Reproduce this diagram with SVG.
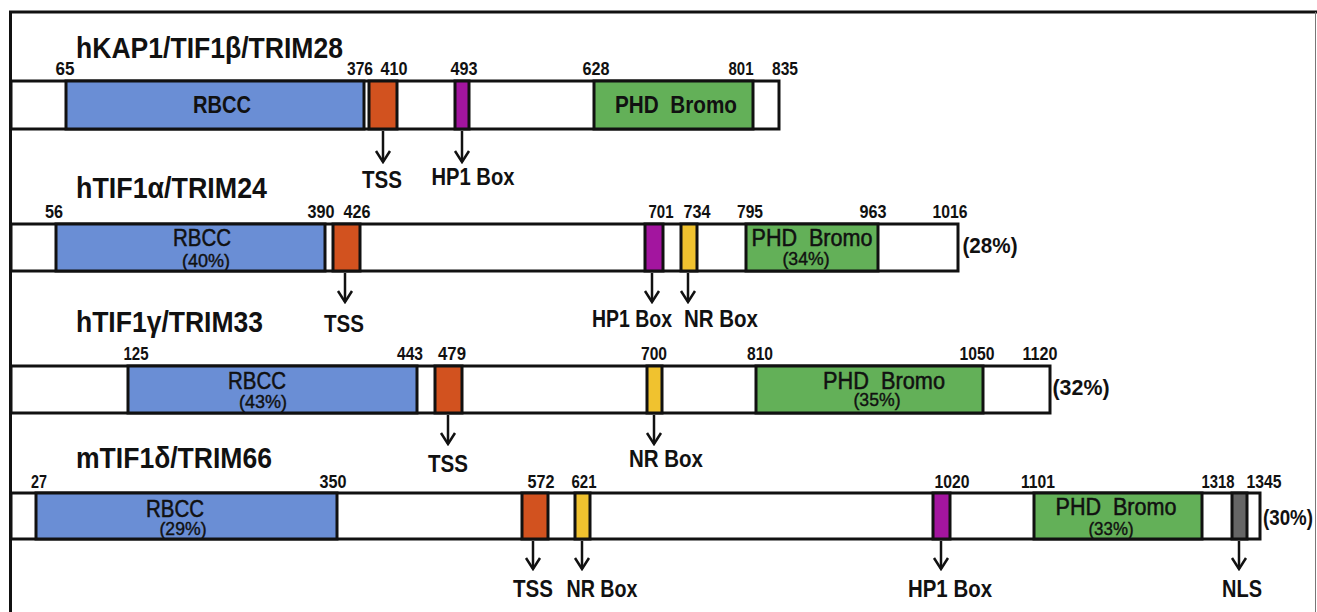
<svg xmlns="http://www.w3.org/2000/svg" width="1317" height="612" viewBox="0 0 1317 612">
<style>
text{font-family:"Liberation Sans Narrow","Liberation Sans",Arial,sans-serif;fill:#111;}
.t{font-size:30px;font-weight:bold;}
.n{font-size:17.5px;font-weight:bold;text-anchor:middle;}
.l{font-size:23px;font-weight:bold;text-anchor:middle;}
.d{font-size:23px;text-anchor:middle;stroke:#111;stroke-width:0.5;}
.db{font-size:23px;font-weight:bold;text-anchor:middle;}
.p{font-size:18px;text-anchor:middle;stroke:#111;stroke-width:0.4;}
.pr{font-size:22px;font-weight:bold;text-anchor:middle;}
.bar{fill:#fff;stroke:#111;stroke-width:3;}
.rb{fill:#6a8ed5;stroke:#111;stroke-width:3;}
.ts{fill:#d2521f;stroke:#111;stroke-width:3;}
.hp{fill:#a3159f;stroke:#111;stroke-width:3;}
.nr{fill:#f0c22f;stroke:#111;stroke-width:3;}
.ph{fill:#63b058;stroke:#111;stroke-width:3;}
.nl{fill:#666;stroke:#111;stroke-width:3;}
.ar{stroke:#111;stroke-width:2.5;fill:none;}
</style>
<defs>
<marker id="ah" viewBox="-13 -9 15 18" markerWidth="15" markerHeight="18" refX="0" refY="0" orient="auto" markerUnits="userSpaceOnUse">
<path d="M-11,-7 L0,0 L-11,7" fill="none" stroke="#111" stroke-width="2.5" stroke-linejoin="miter"/>
</marker>
</defs>
<g id="frame">
<line x1="9" y1="12" x2="1317" y2="12" stroke="#111" stroke-width="3"/>
<line x1="10.5" y1="11" x2="10.5" y2="612" stroke="#111" stroke-width="3"/>
<line x1="1315.5" y1="12" x2="1315.5" y2="612" stroke="#777" stroke-width="1"/>
</g>

<g id="trim28">
<text class="t" x="76" y="58" textLength="267" lengthAdjust="spacingAndGlyphs">hKAP1/TIF1β/TRIM28</text>
<rect class="bar" x="11" y="81" width="768" height="48"/>
<rect class="rb" x="66" y="81" width="298" height="48"/>
<rect class="ts" x="369" y="81" width="28" height="48"/>
<rect class="hp" x="455" y="81" width="14" height="48"/>
<rect class="ph" x="594" y="81" width="159" height="48"/>
<text class="db" x="222" y="113" textLength="58" lengthAdjust="spacingAndGlyphs">RBCC</text>
<text class="db" x="676" y="113" textLength="122" lengthAdjust="spacingAndGlyphs" xml:space="preserve">PHD  Bromo</text>
<text class="n" x="65" y="75" textLength="19" lengthAdjust="spacingAndGlyphs">65</text>
<text class="n" x="360" y="75" textLength="26" lengthAdjust="spacingAndGlyphs">376</text>
<text class="n" x="394" y="75" textLength="27" lengthAdjust="spacingAndGlyphs">410</text>
<text class="n" x="464" y="75" textLength="27" lengthAdjust="spacingAndGlyphs">493</text>
<text class="n" x="596" y="75" textLength="27" lengthAdjust="spacingAndGlyphs">628</text>
<text class="n" x="741" y="75" textLength="25" lengthAdjust="spacingAndGlyphs">801</text>
<text class="n" x="785" y="75" textLength="26" lengthAdjust="spacingAndGlyphs">835</text>
<text class="l" x="382" y="188" textLength="40" lengthAdjust="spacingAndGlyphs">TSS</text>
<text class="l" x="473" y="185" textLength="83" lengthAdjust="spacingAndGlyphs">HP1 Box</text>
</g>

<g id="trim24">
<text class="t" x="76" y="198" textLength="191" lengthAdjust="spacingAndGlyphs">hTIF1α/TRIM24</text>
<rect class="bar" x="11" y="224" width="947" height="47"/>
<rect class="rb" x="56" y="224" width="269" height="47"/>
<rect class="ts" x="333" y="224" width="27" height="47"/>
<rect class="hp" x="645" y="224" width="18" height="47"/>
<rect class="nr" x="681" y="224" width="16" height="47"/>
<rect class="ph" x="746" y="224" width="132" height="47"/>
<text class="d" x="202" y="246" textLength="58" lengthAdjust="spacingAndGlyphs">RBCC</text>
<text class="p" x="206" y="267" textLength="48" lengthAdjust="spacingAndGlyphs">(40%)</text>
<text class="d" x="812" y="246" textLength="121" lengthAdjust="spacingAndGlyphs" xml:space="preserve">PHD  Bromo</text>
<text class="p" x="806" y="265" textLength="47" lengthAdjust="spacingAndGlyphs">(34%)</text>
<text class="pr" x="990" y="253" textLength="55" lengthAdjust="spacingAndGlyphs">(28%)</text>
<text class="n" x="54" y="218" textLength="18" lengthAdjust="spacingAndGlyphs">56</text>
<text class="n" x="321" y="218" textLength="27" lengthAdjust="spacingAndGlyphs">390</text>
<text class="n" x="357" y="218" textLength="27" lengthAdjust="spacingAndGlyphs">426</text>
<text class="n" x="661" y="218" textLength="25" lengthAdjust="spacingAndGlyphs">701</text>
<text class="n" x="697" y="218" textLength="27" lengthAdjust="spacingAndGlyphs">734</text>
<text class="n" x="750" y="218" textLength="26" lengthAdjust="spacingAndGlyphs">795</text>
<text class="n" x="873" y="218" textLength="27" lengthAdjust="spacingAndGlyphs">963</text>
<text class="n" x="950" y="218" textLength="35" lengthAdjust="spacingAndGlyphs">1016</text>
<text class="l" x="344" y="332" textLength="40" lengthAdjust="spacingAndGlyphs">TSS</text>
<text class="l" x="632" y="327" textLength="80" lengthAdjust="spacingAndGlyphs">HP1 Box</text>
<text class="l" x="721" y="327" textLength="74" lengthAdjust="spacingAndGlyphs">NR Box</text>
</g>

<g id="trim33">
<text class="t" x="76" y="332" textLength="187" lengthAdjust="spacingAndGlyphs">hTIF1γ/TRIM33</text>
<rect class="bar" x="11" y="366" width="1039" height="47"/>
<rect class="rb" x="128" y="366" width="289" height="47"/>
<rect class="ts" x="435" y="366" width="27" height="47"/>
<rect class="nr" x="647" y="366" width="15" height="47"/>
<rect class="ph" x="756" y="366" width="227" height="47"/>
<text class="d" x="257" y="389" textLength="58" lengthAdjust="spacingAndGlyphs">RBCC</text>
<text class="p" x="263" y="408" textLength="48" lengthAdjust="spacingAndGlyphs">(43%)</text>
<text class="d" x="884" y="389" textLength="122" lengthAdjust="spacingAndGlyphs" xml:space="preserve">PHD  Bromo</text>
<text class="p" x="877" y="406" textLength="47" lengthAdjust="spacingAndGlyphs">(35%)</text>
<text class="pr" x="1081" y="395" textLength="57" lengthAdjust="spacingAndGlyphs">(32%)</text>
<text class="n" x="136" y="360" textLength="25" lengthAdjust="spacingAndGlyphs">125</text>
<text class="n" x="410" y="360" textLength="26" lengthAdjust="spacingAndGlyphs">443</text>
<text class="n" x="452" y="360" textLength="28" lengthAdjust="spacingAndGlyphs">479</text>
<text class="n" x="654" y="360" textLength="26" lengthAdjust="spacingAndGlyphs">700</text>
<text class="n" x="760" y="360" textLength="26" lengthAdjust="spacingAndGlyphs">810</text>
<text class="n" x="977" y="360" textLength="35" lengthAdjust="spacingAndGlyphs">1050</text>
<text class="n" x="1040" y="360" textLength="35" lengthAdjust="spacingAndGlyphs">1120</text>
<text class="l" x="448" y="472" textLength="40" lengthAdjust="spacingAndGlyphs">TSS</text>
<text class="l" x="666" y="467" textLength="74" lengthAdjust="spacingAndGlyphs">NR Box</text>
</g>

<g id="trim66">
<text class="t" x="76" y="468" textLength="196" lengthAdjust="spacingAndGlyphs">mTIF1δ/TRIM66</text>
<rect class="bar" x="11" y="493" width="1249" height="46"/>
<rect class="rb" x="36" y="493" width="301" height="46"/>
<rect class="ts" x="522" y="493" width="26" height="46"/>
<rect class="nr" x="575" y="493" width="15" height="46"/>
<rect class="hp" x="933" y="493" width="17" height="46"/>
<rect class="ph" x="1034" y="493" width="168" height="46"/>
<rect class="nl" x="1232" y="493" width="15" height="46"/>
<text class="d" x="175" y="517" textLength="58" lengthAdjust="spacingAndGlyphs">RBCC</text>
<text class="p" x="183" y="535" textLength="47" lengthAdjust="spacingAndGlyphs">(29%)</text>
<text class="d" x="1116" y="515" textLength="121" lengthAdjust="spacingAndGlyphs" xml:space="preserve">PHD  Bromo</text>
<text class="p" x="1111" y="535" textLength="45" lengthAdjust="spacingAndGlyphs">(33%)</text>
<text class="pr" x="1288" y="525" textLength="50" lengthAdjust="spacingAndGlyphs">(30%)</text>
<text class="n" x="39" y="488" textLength="16" lengthAdjust="spacingAndGlyphs">27</text>
<text class="n" x="333" y="488" textLength="27" lengthAdjust="spacingAndGlyphs">350</text>
<text class="n" x="541" y="488" textLength="27" lengthAdjust="spacingAndGlyphs">572</text>
<text class="n" x="584" y="488" textLength="25" lengthAdjust="spacingAndGlyphs">621</text>
<text class="n" x="952" y="488" textLength="35" lengthAdjust="spacingAndGlyphs">1020</text>
<text class="n" x="1038" y="488" textLength="34" lengthAdjust="spacingAndGlyphs">1101</text>
<text class="n" x="1218" y="488" textLength="33" lengthAdjust="spacingAndGlyphs">1318</text>
<text class="n" x="1264" y="488" textLength="35" lengthAdjust="spacingAndGlyphs">1345</text>
<text class="l" x="533" y="597" textLength="40" lengthAdjust="spacingAndGlyphs">TSS</text>
<text class="l" x="602" y="597" textLength="71" lengthAdjust="spacingAndGlyphs">NR Box</text>
<text class="l" x="950" y="597" textLength="84" lengthAdjust="spacingAndGlyphs">HP1 Box</text>
<text class="l" x="1242" y="597" textLength="40" lengthAdjust="spacingAndGlyphs">NLS</text>
</g>

<g id="connectors">
<line class="ar" x1="383" y1="131" x2="383" y2="162" marker-end="url(#ah)"/>
<line class="ar" x1="462" y1="131" x2="462" y2="162" marker-end="url(#ah)"/>
<line class="ar" x1="345" y1="273" x2="345" y2="302" marker-end="url(#ah)"/>
<line class="ar" x1="652" y1="273" x2="652" y2="302" marker-end="url(#ah)"/>
<line class="ar" x1="688" y1="273" x2="688" y2="302" marker-end="url(#ah)"/>
<line class="ar" x1="448" y1="415" x2="448" y2="444" marker-end="url(#ah)"/>
<line class="ar" x1="654" y1="415" x2="654" y2="444" marker-end="url(#ah)"/>
<line class="ar" x1="533" y1="541" x2="533" y2="569" marker-end="url(#ah)"/>
<line class="ar" x1="582" y1="541" x2="582" y2="569" marker-end="url(#ah)"/>
<line class="ar" x1="941" y1="541" x2="941" y2="569" marker-end="url(#ah)"/>
<line class="ar" x1="1239" y1="541" x2="1239" y2="569" marker-end="url(#ah)"/>
</g>
</svg>
